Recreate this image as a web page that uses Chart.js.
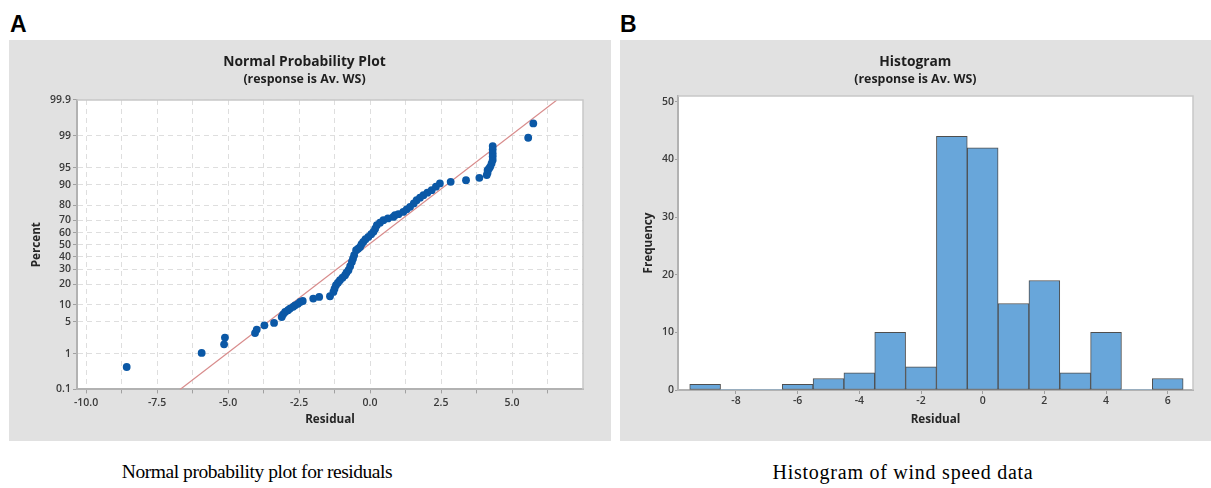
<!DOCTYPE html>
<html>
<head>
<meta charset="utf-8">
<script src="https://cdn.jsdelivr.net/npm/chart.js@4.4.1/dist/chart.umd.min.js"></script>
<style>
  body { margin: 0; width: 1211px; height: 488px; overflow: hidden; background: #fff; position: relative; }
  .tag { position: absolute; top: 13px; font: bold 23px/1 'Liberation Sans', Arial, sans-serif; color: #000; }
  .panel { position: absolute; top: 40px; height: 401px; background: #e1e1e1; overflow: hidden; }
  .caption { position: absolute; font-family: 'Liberation Serif', 'Times New Roman', serif; line-height: 1; color: #000; transform: translateX(-50%); white-space: nowrap; }
</style>
</head>
<body>
<div class="tag" style="left:10px">A</div>
<div class="tag" style="left:620px">B</div>
<div class="panel" style="left:9px; width:602px"><canvas id="probChart" width="602" height="401"></canvas></div>
<div class="panel" style="left:620px; width:600px"><canvas id="histChart" width="600" height="401"></canvas></div>
<div class="caption" style="left:257px; top:462px; font-size:19.5px; letter-spacing:-0.45px">Normal probability plot for residuals</div>
<div class="caption" style="left:903px; top:462px; font-size:20px; letter-spacing:0.75px">Histogram of wind speed data</div>
<script>
// PANEL A - residuals against normal percent
const residuals = [-8.57, -5.93, -5.14, -5.11, -4.05, -3.99, -3.72, -3.38, -3.11, -3.06,
    -2.99, -2.89, -2.82, -2.71, -2.64, -2.54, -2.46, -2.37, -2.00, -1.79,
    -1.41, -1.29, -1.25, -1.20, -1.13, -1.06, -0.97, -0.88, -0.83, -0.76,
    -0.70, -0.64, -0.60, -0.56, -0.49, -0.42, -0.35, -0.30, -0.24, -0.16,
    -0.06, 0.04, 0.12, 0.18, 0.24, 0.35, 0.47, 0.63, 0.82, 0.88,
    1.00, 1.17, 1.29, 1.41, 1.54, 1.64, 1.76, 1.88, 2.02, 2.17,
    2.32, 2.46, 2.84, 3.38, 3.85, 4.11, 4.14, 4.14, 4.19, 4.23,
    4.28, 4.32, 4.32, 4.32, 4.32, 4.32, 5.57, 5.75];
const percents = [0.45, 1.04, 1.67, 2.36, 2.96, 3.49, 4.26, 4.73, 6.13, 6.86,
    7.54, 8.08, 8.63, 9.24, 9.78, 10.35, 11.07, 11.47, 12.5, 13.22,
    13.55, 15.65, 17.34, 19.32, 20.84, 22.39, 24.01, 25.72, 27.46, 29.29,
    32.28, 35.64, 38.25, 41.1, 45.3, 46.57, 48.13, 50.44, 52.39, 54.7,
    56.63, 58.86, 60.8, 63.38, 66.17, 68.08, 69.99, 71.23, 72.37, 73.6,
    74.28, 75.83, 77.49, 79.05, 81.08, 82.92, 84.26, 85.5, 86.69, 87.8,
    89.25, 90.47, 91.04, 91.6, 92.34, 93.14, 93.81, 94.44, 94.79, 95.18,
    95.87, 96.46, 97.01, 97.44, 97.89, 98.24, 98.88, 99.52];
const fitResiduals = [-6.69, 6.58];
const fitPercents = [0.1, 99.9];
const percentTicks = [0.1, 1, 5, 10, 20, 30, 40, 50, 60, 70, 80, 90, 95, 99, 99.9];
const residualTicks = [-10, -8.75, -7.5, -6.25, -5, -3.75, -2.5, -1.25, 0, 1.25, 2.5, 3.75, 5, 6.25];
const residualLabels = ['-10.0', '', '-7.5', '', '-5.0', '', '-2.5', '', '0.0', '', '2.5', '', '5.0', ''];

// PANEL B - histogram
const binCenters = [-9, -8, -7, -6, -5, -4, -3, -2, -1, 0, 1, 2, 3, 4, 5, 6];
const frequencies = [1, 0, 0, 1, 2, 3, 10, 4, 44, 42, 15, 19, 3, 10, 0, 2];
const binTicks = [-8, -6, -4, -2, 0, 2, 4, 6];
const freqTicks = [0, 10, 20, 30, 40, 50];

// inverse normal cdf (Acklam), used for the probability axis
function probit(p) {
    const a = [-39.69683028665376, 220.9460984245205, -275.9285104469687, 138.3577518672690, -30.66479806614716, 2.506628277459239];
    const b = [-54.47609879822406, 161.5858368580409, -155.6989798598866, 66.80131188771972, -13.28068155288572];
    const c = [-0.007784894002430293, -0.3223964580411365, -2.400758277161838, -2.549671010331583, 4.374664141464968, 2.938163982698783];
    const d = [0.007784695709041462, 0.3224671290700398, 2.445134137142996, 3.754408661907416];
    const tail = q => (((((c[0] * q + c[1]) * q + c[2]) * q + c[3]) * q + c[4]) * q + c[5]) / ((((d[0] * q + d[1]) * q + d[2]) * q + d[3]) * q + 1);
    if (p < 0.02425) return tail(Math.sqrt(-2 * Math.log(p)));
    if (p > 1 - 0.02425) return -tail(Math.sqrt(-2 * Math.log(1 - p)));
    const q = p - 0.5, r = q * q;
    return (((((a[0] * r + a[1]) * r + a[2]) * r + a[3]) * r + a[4]) * r + a[5]) * q / (((((b[0] * r + b[1]) * r + b[2]) * r + b[3]) * r + b[4]) * r + 1);
}

const family = "'Open Sans', 'Noto Sans', sans-serif";
const tickFont = { family, size: 10.5, weight: '600' };
const axisTitleFont = { family, size: 11.7, weight: 'bold' };

// white plot area + light frame on top/right
const plotFrame = {
    id: 'plotFrame',
    beforeDraw(chart) {
        const { ctx, chartArea: { left, top, right, bottom } } = chart;
        ctx.save();
        ctx.fillStyle = '#ffffff';
        ctx.fillRect(left, top, right - left, bottom - top);
        ctx.restore();
    },
    afterDraw(chart) {
        const { ctx, chartArea: { left, top, right, bottom } } = chart;
        ctx.save();
        ctx.strokeStyle = '#c8c8c8';
        ctx.lineWidth = 1.5;
        ctx.beginPath();
        ctx.moveTo(left, top);
        ctx.lineTo(right, top);
        ctx.lineTo(right, bottom);
        ctx.stroke();
        ctx.restore();
    }
};

function titles(text, gapBelow) {
    return {
        legend: { display: false },
        tooltip: { enabled: false },
        title: { display: true, text, color: '#1e1e1e', font: { family, size: 13.8, weight: 'bold' }, padding: { top: 2.9, bottom: 1 } },
        subtitle: { display: true, text: '(response is Av. WS)', color: '#1e1e1e', font: { family, size: 12.4, weight: 'bold' }, padding: { top: 0.6, bottom: gapBelow } },
    };
}

// NORMAL PROBABILITY PLOT
const probChart = new Chart(document.getElementById('probChart'), {
    type: 'scatter',
    plugins: [plotFrame],
    data: {
        datasets: [
            {
                data: residuals.map((r, i) => ({ x: r, y: probit(percents[i] / 100) })),
                backgroundColor: '#0b58a6',
                borderWidth: 0,
                pointRadius: 3.9,
                order: 1,
            },
            {
                data: fitResiduals.map((r, i) => ({ x: r, y: probit(fitPercents[i] / 100) })),
                showLine: true,
                borderColor: '#d88c8c',
                borderWidth: 1.2,
                pointRadius: 0,
                order: 2,
            }
        ]
    },
    options: {
        responsive: false,
        animation: false,
        layout: { padding: { left: 17, right: 28, top: 11, bottom: 10 } },
        plugins: titles('Normal Probability Plot', 13.06),
        scales: {
            x: {
                type: 'linear',
                min: -10.32,
                max: 7.5,
                afterFit: (s) => { s.height = 41.6; },
                afterBuildTicks: (s) => { s.ticks = residualTicks.map(v => ({ value: v })); },
                ticks: { font: tickFont, color: '#3a3a3a', padding: 3, autoSkip: false, maxRotation: 0, callback: (v, i) => residualLabels[i] },
                grid: { color: '#dedede', tickColor: '#a0a0a0', tickLength: 4 },
                border: { color: '#b2b2b2', width: 2, dash: [5, 4] },
                title: { display: true, text: 'Residual', color: '#262626', font: axisTitleFont },
            },
            y: {
                type: 'linear',
                min: probit(0.001),
                max: probit(0.999),
                afterFit: (s) => { s.width = 51; },
                afterBuildTicks: (s) => { s.ticks = percentTicks.map(p => ({ value: probit(p / 100) })); },
                ticks: { font: tickFont, color: '#3a3a3a', padding: 2, autoSkip: false, callback: (v, i) => String(percentTicks[i]) },
                grid: { color: '#dedede', tickColor: '#a0a0a0', tickLength: 4 },
                border: { color: '#b2b2b2', width: 2, dash: [5, 4] },
                title: { display: true, text: 'Percent', color: '#262626', font: axisTitleFont },
            }
        }
    }
});

// HISTOGRAM
const histChart = new Chart(document.getElementById('histChart'), {
    type: 'bar',
    plugins: [plotFrame],
    data: {
        datasets: [{
            data: binCenters.map((c, i) => ({ x: c, y: frequencies[i] })),
            backgroundColor: '#68a6da',
            borderColor: '#4e4e4e',
            borderWidth: (ctx) => ctx.raw && ctx.raw.y ? 1 : 0,
            borderSkipped: false,
            barPercentage: 1,
            categoryPercentage: 1,
        }]
    },
    options: {
        responsive: false,
        animation: false,
        layout: { padding: { left: 17.7, right: 27, top: 11, bottom: 10 } },
        plugins: titles('Histogram', 9.06),
        scales: {
            x: {
                type: 'linear',
                min: -9.88,
                max: 6.82,
                offset: false,
                afterFit: (s) => { s.height = 41; },
                afterBuildTicks: (s) => { s.ticks = binTicks.map(v => ({ value: v })); },
                ticks: { font: tickFont, color: '#3a3a3a', padding: 1, autoSkip: false, maxRotation: 0 },
                grid: { display: true, drawOnChartArea: false, offset: false, tickColor: '#a0a0a0', tickLength: 4 },
                border: { color: '#b2b2b2', width: 2 },
                title: { display: true, text: 'Residual', color: '#262626', font: axisTitleFont },
            },
            y: {
                min: 0,
                max: 51,
                afterFit: (s) => { s.width = 40.3; },
                afterBuildTicks: (s) => { s.ticks = freqTicks.map(v => ({ value: v })); },
                ticks: { font: tickFont, color: '#3a3a3a', padding: 1, autoSkip: false },
                grid: { display: true, drawOnChartArea: false, tickColor: '#a0a0a0', tickLength: 3 },
                border: { color: '#b2b2b2', width: 2 },
                title: { display: true, text: 'Frequency', color: '#262626', font: axisTitleFont },
            }
        }
    }
});
</script>
</body>
</html>
